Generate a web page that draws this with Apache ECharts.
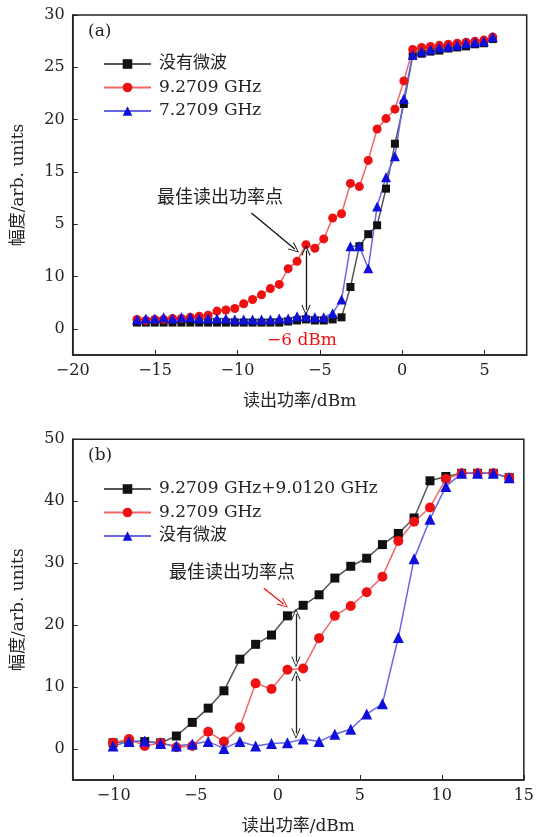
<!DOCTYPE html>
<html>
<head>
<meta charset="utf-8">
<script src="https://cdn.jsdelivr.net/npm/echarts@6/dist/echarts.min.js"></script>
<style>
html, body { margin: 0; padding: 0; background: #fff; }
#echarts { width: 537px; height: 837px; }
</style>
</head>
<body>
<div id="echarts"></div>
<script>
// (a) readout power sweep, 0.54 dBm steps
var xA = [-16.10, -15.56, -15.02, -14.48, -13.94, -13.40, -12.86, -12.32, -11.78, -11.24,
    -10.70, -10.16, -9.62, -9.08, -8.54, -8.00, -7.46, -6.92, -6.38, -5.84,
    -5.30, -4.76, -4.22, -3.68, -3.14, -2.60, -2.06, -1.52, -0.98, -0.44,
    0.10, 0.64, 1.18, 1.72, 2.26, 2.80, 3.34, 3.88, 4.42, 4.96, 5.50];
var noMwA = [0.6, 0.6, 0.6, 0.6, 0.6, 0.6, 0.6, 0.6, 0.6, 0.6,
    0.6, 0.6, 0.6, 0.6, 0.6, 0.6, 0.6, 0.7, 0.8, 0.9,
    0.8, 0.8, 0.9, 1.1, 4.0, 7.9, 9.05, 9.9, 13.4, 17.7,
    21.5, 26.1, 26.3, 26.5, 26.6, 26.8, 26.9, 27.0, 27.2, 27.3, 27.7];
var f9A = [0.9, 0.8, 0.9, 0.9, 1.0, 1.0, 1.1, 1.2, 1.3, 1.7,
    1.8, 1.95, 2.4, 2.8, 3.25, 3.85, 4.25, 5.75, 6.45, 8.05,
    7.7, 8.6, 10.6, 11.0, 13.9, 13.6, 16.1, 19.1, 20.1, 21.0,
    23.7, 26.7, 26.9, 27.0, 27.1, 27.2, 27.3, 27.4, 27.5, 27.6, 27.9];
var f7A = [0.9, 1.0, 1.0, 1.1, 1.0, 1.1, 1.1, 1.0, 1.0, 1.0,
    1.0, 0.9, 0.9, 0.9, 0.9, 0.9, 1.0, 1.0, 1.2, 1.2,
    1.1, 1.1, 1.5, 2.8, 7.9, 7.9, 5.8, 11.7, 14.5, 16.5,
    22.0, 26.2, 26.5, 26.7, 26.9, 27.0, 27.1, 27.3, 27.4, 27.5, 27.9];

// (b) readout power sweep, ~0.97 dBm steps
var xB = [-10.04, -9.07, -8.11, -7.14, -6.18, -5.21, -4.24, -3.28, -2.31, -1.35,
    -0.38, 0.59, 1.55, 2.52, 3.48, 4.45, 5.42, 6.38, 7.35, 8.31,
    9.28, 10.25, 11.21, 12.18, 13.14, 14.11];
var twoToneB = [1.0, 1.2, 1.2, 1.0, 2.1, 4.3, 6.6, 9.4, 14.5, 16.9,
    18.4, 21.5, 23.2, 24.9, 27.6, 29.5, 30.8, 33.0, 34.8, 37.3,
    43.3, 44.0, 44.5, 44.5, 44.5, 43.8];
var f9B = [1.0, 1.6, 0.5, 1.0, 0.3, 0.5, 2.8, 1.2, 3.5, 10.6,
    9.7, 12.8, 13.0, 17.9, 21.5, 23.1, 25.3, 27.8, 33.6, 36.7,
    39.0, 43.6, 44.5, 44.5, 44.5, 43.8];
var noMwB = [0.5, 1.2, 1.3, 0.9, 0.5, 0.8, 1.2, 0.1, 1.2, 0.5,
    0.9, 1.0, 1.6, 1.2, 2.4, 3.2, 5.65, 7.3, 18.0, 30.7,
    37.1, 42.4, 44.5, 44.5, 44.5, 43.8];

var xTicksA = [-20, -15, -10, -5, 0, 5];
var yTicksA = [0, 5, 10, 15, 20, 25, 30];
var yLabelsA = ['0', '10', '5', '15', '20', '25', '30'];
var xTicksB = [-10, -5, 0, 5, 10, 15];
var yTicksB = [0, 10, 20, 30, 40, 50];

var serif = 'DejaVu Serif, Noto Sans CJK SC, serif';
var chev = 'path://M0,0 L6,10 L5,10.8 L0,2 L-5,10.8 L-6,10 Z';

function pairs(xs, ys) {
    return xs.map(function (x, i) { return [x, ys[i]]; });
}
function minus(v) {
    return String(v).replace('-', '\u2212');
}

function axisBase(gi) {
    return {
        gridIndex: gi,
        type: 'value',
        axisLine: {onZero: false, lineStyle: {color: '#222', width: 1.5}},
        axisTick: {inside: true, length: 5, lineStyle: {color: '#222'}},
        axisLabel: {color: '#222', fontSize: 16, fontFamily: serif, margin: 8},
        splitLine: {show: false},
        nameLocation: 'middle',
        nameTextStyle: {color: '#222', fontSize: 17, fontFamily: serif}
    };
}

function lineSeries(name, xi, yi, xs, ys, color, lineColor, symbol, size) {
    return {
        name: name,
        type: 'line',
        xAxisIndex: xi,
        yAxisIndex: yi,
        data: pairs(xs, ys),
        symbol: symbol,
        symbolSize: size,
        itemStyle: {color: color},
        lineStyle: {color: lineColor, width: 1.5},
        animation: false
    };
}

var xa = axisBase(0), ya = axisBase(0), xb = axisBase(1), yb = axisBase(1);
xa.min = -20; xa.max = 7.56; xa.name = '读出功率/dBm'; xa.nameGap = 38;
xa.axisLabel.customValues = xTicksA; xa.axisTick.customValues = xTicksA;
xa.axisLabel.formatter = minus;
ya.min = -2.5; ya.max = 30; ya.name = '幅度/arb. units'; ya.nameGap = 46;
ya.axisLabel.customValues = yTicksA; ya.axisTick.customValues = yTicksA;
ya.axisLabel.formatter = function (v) { return yLabelsA[yTicksA.indexOf(v)]; };
xb.min = -12.5; xb.max = 15; xb.name = '读出功率/dBm'; xb.nameGap = 38;
xb.axisLabel.customValues = xTicksB; xb.axisTick.customValues = xTicksB;
xb.axisLabel.formatter = minus;
yb.min = -5; yb.max = 50; yb.name = '幅度/arb. units'; yb.nameGap = 46;
yb.axisLabel.customValues = yTicksB; yb.axisTick.customValues = yTicksB;

var sA1 = lineSeries('没有微波', 0, 0, xA, noMwA, '#111', '#555', 'rect', 8);
var sA2 = lineSeries('9.2709 GHz', 0, 0, xA, f9A, '#ee1111', '#ee6666', 'circle', 9);
var sA3 = lineSeries('7.2709 GHz', 0, 0, xA, f7A, '#1010dd', '#6666e6', 'triangle', 10);
var sB1 = lineSeries('9.2709 GHz+9.0120 GHz', 1, 1, xB, twoToneB, '#111', '#555', 'rect', 9);
var sB2 = lineSeries('9.2709 GHz\u200b', 1, 1, xB, f9B, '#ee1111', '#ee6666', 'circle', 10);
var sB3 = lineSeries('没有微波\u200b', 1, 1, xB, noMwB, '#1010dd', '#6666e6', 'triangle', 11);

function arrows(lines, color) {
    return {
        silent: true,
        animation: false,
        symbolSize: [9, 11],
        label: {show: false},
        lineStyle: {color: color, width: 1.3, type: 'solid'},
        emphasis: {disabled: true},
        data: lines
    };
}

sA1.markLine = arrows([
    [{coord: [-9.15, 11.07], symbol: 'none'}, {coord: [-6.52, 7.63], symbol: chev}],
    [{coord: [-5.84, 7.5], symbol: chev}, {coord: [-5.84, 1.8], symbol: chev}]
], '#111');
sB1.markLine = arrows([
    [{coord: [1.11, 21.8], symbol: chev}, {coord: [1.11, 14.1], symbol: chev}],
    [{coord: [1.11, 11.8], symbol: chev}, {coord: [1.11, 2.5], symbol: chev}]
], '#222');
sB2.markLine = arrows([
    [{coord: [-0.85, 25.96], symbol: 'none'}, {coord: [0.36, 23.4], symbol: chev}]
], '#ee1111');

function legend(names, top) {
    return {
        orient: 'vertical',
        left: 98,
        top: top,
        itemWidth: 47,
        itemHeight: 12,
        itemGap: 3.5,
        selectedMode: false,
        data: names,
        formatter: function (n) { return n.replace('\u200b', ''); },
        textStyle: {color: '#222', fontSize: 17, fontFamily: serif, lineHeight: 20, padding: [0, 0, 0, 3]}
    };
}

function txt(x, y, s, size, color) {
    return {
        type: 'text', left: x, top: y,
        style: {text: s, fontSize: size, fontFamily: serif, fill: color || '#222'}
    };
}

var myChart = echarts.init(document.getElementById('echarts'), null, {renderer: 'canvas'}),
    option = {
        backgroundColor: '#fff',
        grid: [
            {left: 72.7, top: 15, width: 454, height: 340, show: true, borderColor: '#222', borderWidth: 1.5},
            {left: 72.7, top: 439.3, width: 454.6, height: 340.7, show: true, borderColor: '#222', borderWidth: 1.5}
        ],
        legend: [
            legend(['没有微波', '9.2709 GHz', '7.2709 GHz'], 49),
            legend(['9.2709 GHz+9.0120 GHz', '9.2709 GHz\u200b', '没有微波\u200b'], 474)
        ],
        xAxis: [xa, xb],
        yAxis: [ya, yb],
        graphic: [
            txt(88, 23, '(a)', 17),
            txt(88, 447, '(b)', 17),
            txt(157, 189, '最佳读出功率点', 18),
            txt(169, 564, '最佳读出功率点', 18),
            txt(267, 332, '\u22126 dBm', 17, '#ee1111')
        ],
        series: [sA1, sA2, sA3, sB1, sB2, sB3]
    };

myChart.setOption(option);
</script>
</body>
</html>
